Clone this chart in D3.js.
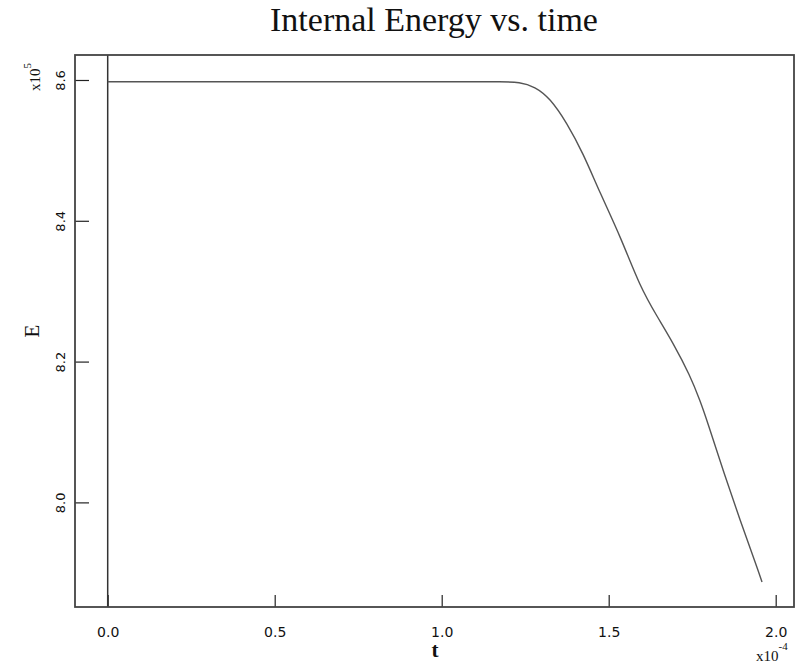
<!DOCTYPE html>
<html>
<head>
<meta charset="utf-8">
<script src="https://cdn.jsdelivr.net/npm/d3@7"></script>
<style>
  body { margin: 0; background: #fff; }
  svg { display: block; }
</style>
</head>
<body>
<svg id="chart" width="803" height="663"></svg>
<script>
// time in units of 1e-4, energy in units of 1e5
const timeVals = [0.0, 0.25, 0.5, 0.75, 1.0, 1.1, 1.175, 1.234, 1.279, 1.324, 1.375, 1.423, 1.474,
  1.537, 1.594, 1.645, 1.693, 1.744, 1.774, 1.794, 1.842, 1.893, 1.944, 1.959];
const energyVals = [8.5976, 8.5976, 8.5976, 8.5976, 8.5976, 8.5976, 8.5975, 8.5972, 8.5905, 8.5744, 8.5389, 8.4963, 8.4395,
  8.3756, 8.3060, 8.2640, 8.2264, 8.1800, 8.1440, 8.117, 8.046, 7.975, 7.908, 7.887];
const xTicks = [0.0, 0.5, 1.0, 1.5, 2.0];
const yTicks = [8.0, 8.2, 8.4, 8.6];

const svg = d3.select('#chart');
const margin = { top: 55, right: 9, bottom: 56, left: 75 };
const W = 803 - margin.left - margin.right;
const H = 663 - margin.top - margin.bottom;

const x = d3.scaleLinear().domain([-0.0979, 2.0548]).range([0, W]);
const y = d3.scaleLinear().domain([7.8514, 8.6355]).range([H, 0]);

const g = svg.append('g').attr('transform', `translate(${margin.left},${margin.top})`);

// x axis (ticks pointing inward)
const xAxis = g.append('g')
  .attr('transform', `translate(0,${H})`)
  .call(d3.axisBottom(x).tickValues(xTicks).tickSize(-12).tickPadding(20).tickFormat(d3.format('.1f')));
xAxis.select('.domain').remove();
xAxis.selectAll('line').attr('stroke', '#222').attr('stroke-width', 1.2);
xAxis.selectAll('text')
  .attr('font-family', 'DejaVu Sans, sans-serif')
  .attr('font-size', 14)
  .attr('fill', '#111');

// y axis
const yAxis = g.append('g')
  .call(d3.axisLeft(y).tickValues(yTicks).tickSize(-14).tickFormat(d3.format('.1f')));
yAxis.select('.domain').remove();
yAxis.selectAll('line').attr('stroke', '#222').attr('stroke-width', 1.2);
yAxis.selectAll('text')
  .attr('x', null).attr('dy', null)
  .attr('transform', 'translate(-10,0) rotate(-90)')
  .attr('text-anchor', 'middle')
  .attr('font-family', 'DejaVu Sans, sans-serif')
  .attr('font-size', 13)
  .attr('fill', '#111');

// vertical line at t = 0
g.append('line')
  .attr('x1', x(0)).attr('x2', x(0))
  .attr('y1', 0).attr('y2', H)
  .attr('stroke', '#333').attr('stroke-width', 1.5);

// curve
const data = timeVals.map((t, i) => ({ t, e: energyVals[i] }));
g.append('path')
  .datum(data)
  .attr('fill', 'none')
  .attr('stroke', '#555')
  .attr('stroke-width', 1.4)
  .attr('d', d3.line().x(d => x(d.t)).y(d => y(d.e)).curve(d3.curveBasis));

// frame
g.append('rect')
  .attr('width', W).attr('height', H)
  .attr('fill', 'none')
  .attr('stroke', '#444').attr('stroke-width', 1.8);

// title
svg.append('text')
  .attr('x', 434).attr('y', 31)
  .attr('text-anchor', 'middle')
  .attr('font-family', 'Liberation Serif, serif')
  .attr('font-size', 34)
  .attr('fill', '#111')
  .text('Internal Energy vs. time');

// axis titles
svg.append('text')
  .attr('transform', `translate(39,${margin.top + H / 2}) rotate(-90)`)
  .attr('text-anchor', 'middle')
  .attr('font-family', 'Liberation Serif, serif')
  .attr('font-size', 21)
  .attr('fill', '#111')
  .text('E');

svg.append('text')
  .attr('x', 435).attr('y', 657)
  .attr('text-anchor', 'middle')
  .attr('font-family', 'Liberation Serif, serif')
  .attr('font-weight', 'bold')
  .attr('font-size', 21)
  .attr('fill', '#111')
  .text('t');

// exponent labels
const yExp = svg.append('text')
  .attr('transform', 'translate(40,91) rotate(-90)')
  .attr('font-family', 'Liberation Serif, serif')
  .attr('font-size', 15)
  .attr('fill', '#111');
yExp.append('tspan').text('x10');
yExp.append('tspan').attr('dy', -9).attr('font-size', 11).text('5');

const xExp = svg.append('text')
  .attr('x', 756).attr('y', 661)
  .attr('font-family', 'Liberation Serif, serif')
  .attr('font-size', 15)
  .attr('fill', '#111');
xExp.append('tspan').text('x10');
xExp.append('tspan').attr('dy', -11).attr('font-size', 11).text('-4');
</script>
</body>
</html>
